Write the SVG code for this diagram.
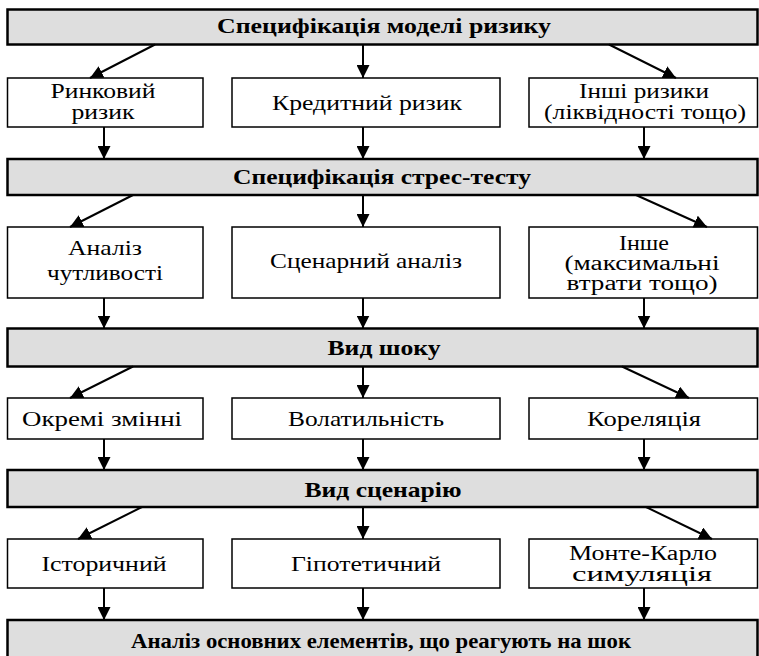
<svg xmlns="http://www.w3.org/2000/svg" width="759" height="656" viewBox="0 0 759 656">
  <style>
    .bar { fill: #dedede; stroke: #000; stroke-width: 2.5; }
    .box { fill: #fff; stroke: #000; stroke-width: 1.5; }
    .bt { font-weight: bold; font-size: 21px; fill: #000; text-anchor: middle; }
    .t { font-size: 21px; fill: #000; text-anchor: middle; }
    .s { font-size: 20px; }
    .arr { stroke: #000; stroke-width: 2; fill: none; marker-end: url(#head); }
  </style>
  <defs>
    <marker id="head" markerUnits="userSpaceOnUse" viewBox="0 0 12 12" refX="12" refY="6" markerWidth="13" markerHeight="13" orient="auto">
      <path d="M0,0 L12,6 L0,12 z" fill="#000"/>
    </marker>
  </defs>
  <rect width="759" height="656" fill="#fff"/>

  <g font-family="Liberation Serif, Times New Roman, DejaVu Serif, serif">
  <!-- level 1: risk model -->
  <g id="bar1"><rect class="bar" x="7.5" y="9.5" width="750" height="35"/><text class="bt" x="384" y="33" textLength="334" lengthAdjust="spacingAndGlyphs">Специфікація моделі ризику</text></g>
  <g id="n-market"><rect class="box" x="7.5" y="78" width="195.5" height="49"/><text class="t s" x="103" y="98" textLength="105" lengthAdjust="spacingAndGlyphs">Ринковий</text><text class="t s" x="103" y="119" textLength="63" lengthAdjust="spacingAndGlyphs">ризик</text></g>
  <g id="n-credit"><rect class="box" x="232" y="78" width="268" height="49"/><text class="t" x="367" y="110" textLength="190" lengthAdjust="spacingAndGlyphs">Кредитний ризик</text></g>
  <g id="n-other-risks"><rect class="box" x="529" y="78" width="228.5" height="49"/><text class="t s" x="644" y="98" textLength="130" lengthAdjust="spacingAndGlyphs">Інші ризики</text><text class="t s" x="645" y="119" textLength="202" lengthAdjust="spacingAndGlyphs">(ліквідності тощо)</text></g>

  <!-- level 2: stress test -->
  <g id="bar2"><rect class="bar" x="7.5" y="159" width="750" height="36"/><text class="bt" x="382" y="184" textLength="298" lengthAdjust="spacingAndGlyphs">Специфікація стрес-тесту</text></g>
  <g id="n-sens"><rect class="box" x="7.5" y="227" width="195.5" height="71"/><text class="t" x="105" y="255" textLength="74" lengthAdjust="spacingAndGlyphs">Аналіз</text><text class="t" x="105" y="280" textLength="116" lengthAdjust="spacingAndGlyphs">чутливості</text></g>
  <g id="n-scen"><rect class="box" x="232" y="227" width="268" height="71"/><text class="t" x="366" y="268" textLength="192" lengthAdjust="spacingAndGlyphs">Сценарний аналіз</text></g>
  <g id="n-other"><rect class="box" x="529" y="227" width="228.5" height="71"/><text class="t s" x="644" y="250" textLength="50" lengthAdjust="spacingAndGlyphs">Інше</text><text class="t s" x="642" y="270" textLength="155" lengthAdjust="spacingAndGlyphs">(максимальні</text><text class="t s" x="642" y="290" textLength="151" lengthAdjust="spacingAndGlyphs">втрати тощо)</text></g>

  <!-- level 3: shock type -->
  <g id="bar3"><rect class="bar" x="7.5" y="328.5" width="750" height="38"/><text class="bt" x="384" y="355" textLength="113" lengthAdjust="spacingAndGlyphs">Вид шоку</text></g>
  <g id="n-vars"><rect class="box" x="7.5" y="398" width="195.5" height="41"/><text class="t" x="102" y="426" textLength="160" lengthAdjust="spacingAndGlyphs">Окремі змінні</text></g>
  <g id="n-vol"><rect class="box" x="232" y="398" width="268" height="41"/><text class="t" x="366" y="426" textLength="156" lengthAdjust="spacingAndGlyphs">Волатильність</text></g>
  <g id="n-corr"><rect class="box" x="529" y="398" width="228.5" height="41"/><text class="t" x="644" y="426" textLength="114" lengthAdjust="spacingAndGlyphs">Кореляція</text></g>

  <!-- level 4: scenario type -->
  <g id="bar4"><rect class="bar" x="7.5" y="470" width="750" height="37"/><text class="bt" x="383" y="497" textLength="157" lengthAdjust="spacingAndGlyphs">Вид сценарію</text></g>
  <g id="n-hist"><rect class="box" x="7.5" y="539" width="195.5" height="49"/><text class="t" x="104" y="571" textLength="125" lengthAdjust="spacingAndGlyphs">Історичний</text></g>
  <g id="n-hyp"><rect class="box" x="232" y="539" width="268" height="49"/><text class="t" x="366" y="571" textLength="150" lengthAdjust="spacingAndGlyphs">Гіпотетичний</text></g>
  <g id="n-mc"><rect class="box" x="529" y="539" width="228.5" height="49"/><text class="t s" x="643" y="560" textLength="148" lengthAdjust="spacingAndGlyphs">Монте-Карло</text><text class="t s" x="642" y="581" textLength="140" lengthAdjust="spacingAndGlyphs">симуляція</text></g>

  <!-- result -->
  <g id="bar5"><rect class="bar" x="7.5" y="620" width="750" height="45"/><text class="bt" x="381" y="648" textLength="500" lengthAdjust="spacingAndGlyphs">Аналіз основних елементів, що реагують на шок</text></g>
  </g>

  <g id="connectors">
    <line class="arr" x1="155" y1="44.5" x2="90" y2="78"/>
    <line class="arr" x1="363" y1="44.5" x2="363" y2="78"/>
    <line class="arr" x1="609" y1="44.5" x2="676" y2="78"/>
    <line class="arr" x1="104" y1="127" x2="104" y2="159"/>
    <line class="arr" x1="363" y1="127" x2="363" y2="159"/>
    <line class="arr" x1="644" y1="127" x2="644" y2="159"/>

    <line class="arr" x1="133" y1="195" x2="70" y2="227"/>
    <line class="arr" x1="363" y1="195" x2="363" y2="227"/>
    <line class="arr" x1="636" y1="195" x2="707" y2="227"/>
    <line class="arr" x1="104" y1="298" x2="104" y2="328.5"/>
    <line class="arr" x1="363" y1="298" x2="363" y2="328.5"/>
    <line class="arr" x1="644" y1="298" x2="644" y2="328.5"/>

    <line class="arr" x1="133" y1="366.5" x2="70" y2="398"/>
    <line class="arr" x1="363" y1="366.5" x2="363" y2="398"/>
    <line class="arr" x1="622" y1="366.5" x2="689" y2="398"/>
    <line class="arr" x1="104" y1="439" x2="104" y2="470"/>
    <line class="arr" x1="363" y1="439" x2="363" y2="470"/>
    <line class="arr" x1="644" y1="439" x2="644" y2="470"/>

    <line class="arr" x1="142" y1="507" x2="78" y2="539"/>
    <line class="arr" x1="363" y1="507" x2="363" y2="539"/>
    <line class="arr" x1="646" y1="507" x2="712" y2="539"/>
    <line class="arr" x1="104" y1="588" x2="104" y2="620"/>
    <line class="arr" x1="363" y1="588" x2="363" y2="620"/>
    <line class="arr" x1="644" y1="588" x2="644" y2="620"/>
  </g>
</svg>
